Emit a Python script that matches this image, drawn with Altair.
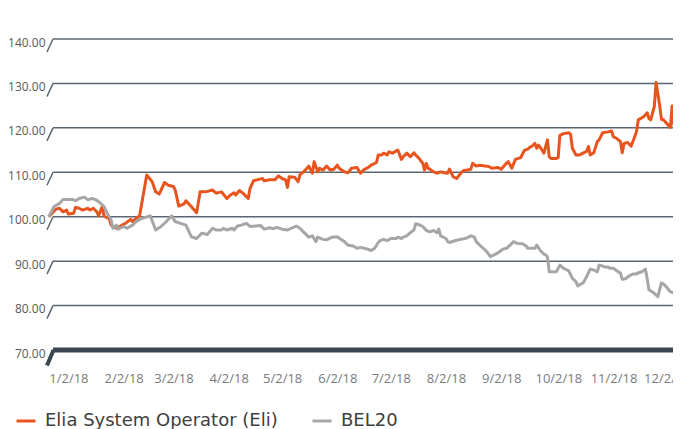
import altair as alt
import pandas as pd

START = "2018-01-02"
SERIES = ["Elia System Operator (Eli)", "BEL20"]
COLORS = ["#E8541E", "#A6A6A6"]

# day offsets from 2 Jan 2018 and index values (rebased to 100)
ELIA_DAYS = [0, 4, 6, 8, 10, 11, 14, 15, 17, 19, 22, 23, 25, 27, 28, 30, 31, 32, 34, 35,
             38, 43, 46, 47, 49, 51, 55, 58, 60, 62, 65, 67, 70, 71, 73, 76, 77, 80, 83, 85,
             88, 92, 94, 97, 100, 102, 104, 105, 107, 109, 112, 113, 115, 118, 120, 121, 124, 127, 129, 131,
             133, 134, 135, 138, 140, 141, 143, 145, 146, 148, 149, 151, 152, 154, 156, 158, 160, 162, 163, 166,
             168, 170, 173, 175, 177, 179, 181, 184, 185, 187, 188, 190, 191, 193, 195, 196, 198, 199, 201, 203,
             205, 206, 208, 210, 211, 212, 213, 214, 216, 218, 220, 222, 224, 225, 227, 229, 231, 232, 233, 235,
             237, 238, 240, 242, 245, 247, 249, 252, 254, 256, 258, 260, 262, 265, 267, 269, 270, 272, 273, 274,
             275, 277, 278, 280, 281, 282, 285, 286, 287, 289, 292, 293, 294, 296, 298, 300, 302, 303, 304, 306,
             308, 309, 311, 314, 316, 317, 319, 321, 322, 323, 325, 327, 329, 330, 331, 334, 336, 337, 338, 340,
             341, 343, 344, 345, 347, 349, 350, 351, 353, 354, 355]
ELIA_VALUES = [100.0, 101.7, 101.9, 101.1, 101.5, 100.6, 100.8, 102.1, 101.9, 101.5, 101.9, 101.5, 101.9, 101.1, 100.2, 102.3, 100.2, 99.9, 99.6, 98.1,
               97.4, 98.5, 99.4, 98.9, 99.6, 100.2, 109.4, 107.9, 105.6, 105.1, 107.7, 107.1, 106.8, 106.0, 102.4, 102.9, 103.6, 102.3, 100.9, 105.6,
               105.6, 106.0, 105.3, 105.6, 104.1, 104.9, 105.4, 104.9, 105.9, 105.3, 104.1, 106.4, 108.1, 108.4, 108.6, 108.1, 108.3, 108.3, 109.2, 108.6,
               108.3, 106.6, 109.0, 108.9, 107.9, 109.4, 110.1, 110.9, 111.4, 109.8, 112.4, 110.1, 110.9, 110.5, 111.4, 110.5, 110.7, 111.6, 110.9, 110.1,
               109.9, 110.9, 111.1, 109.8, 110.6, 111.0, 111.6, 112.2, 113.9, 113.9, 114.3, 113.9, 114.6, 114.3, 114.8, 115.0, 112.9, 113.5, 114.3, 113.5,
               114.4, 113.9, 113.1, 112.0, 110.5, 112.0, 110.9, 110.7, 110.1, 109.8, 110.1, 109.9, 109.8, 110.7, 109.0, 108.6, 109.6, 110.1, 110.4, 110.5,
               110.7, 112.0, 111.4, 111.6, 111.4, 111.3, 110.9, 111.1, 110.7, 111.6, 112.4, 110.9, 112.9, 113.3, 114.9, 115.2, 115.6, 116.1, 116.5, 115.4,
               116.1, 115.0, 114.3, 117.3, 113.5, 113.1, 113.1, 113.3, 118.3, 118.7, 118.9, 118.6, 115.4, 113.9, 113.9, 114.3, 114.7, 115.8, 113.9, 114.4,
               116.9, 117.3, 118.9, 119.1, 119.3, 118.0, 117.6, 116.9, 114.4, 116.5, 116.7, 115.9, 118.0, 119.1, 121.8, 122.5, 123.4, 122.1, 121.8, 124.8,
               130.2, 125.1, 121.9, 121.9, 121.0, 120.1, 124.9, 120.6, 121.1, 120.2, 119.9]

BEL_DAYS = [0, 3, 6, 8, 13, 15, 17, 20, 22, 24, 26, 28, 31, 33, 35, 36, 38, 39, 42, 44,
            47, 49, 52, 57, 60, 63, 66, 69, 71, 74, 77, 80, 83, 86, 89, 92, 94, 97, 98, 100,
            103, 104, 106, 108, 111, 113, 116, 119, 121, 124, 126, 128, 131, 134, 136, 139, 141, 143, 146, 148,
            150, 151, 154, 156, 159, 162, 164, 166, 168, 171, 173, 175, 177, 179, 181, 183, 185, 186, 188, 190,
            192, 195, 196, 198, 199, 201, 203, 205, 206, 208, 210, 212, 214, 216, 218, 219, 220, 223, 224, 225,
            228, 231, 234, 237, 239, 240, 242, 244, 246, 248, 250, 252, 254, 255, 257, 259, 261, 263, 266, 268,
            269, 271, 273, 274, 276, 278, 279, 280, 281, 284, 285, 287, 289, 292, 294, 296, 297, 299, 300, 302,
            304, 306, 308, 309, 311, 313, 314, 315, 317, 319, 321, 322, 324, 326, 328, 330, 331, 333, 335, 336,
            337, 339, 341, 342, 344, 345, 347, 349, 351, 352, 353, 355]
BEL_VALUES = [100.0, 102.3, 103.0, 103.9, 103.9, 103.6, 104.1, 104.4, 103.8, 104.1, 103.9, 103.4, 102.3, 100.6, 99.3, 97.4, 98.1, 97.2, 97.8, 97.4,
              98.1, 98.9, 99.6, 100.2, 97.0, 97.8, 98.9, 100.2, 98.9, 98.5, 98.1, 95.5, 95.1, 96.3, 96.0, 97.4, 97.0, 97.0, 97.4, 97.0,
              97.4, 97.0, 97.9, 98.1, 98.5, 97.8, 97.9, 98.0, 97.2, 97.5, 97.3, 97.6, 97.2, 97.0, 97.4, 97.9, 97.4, 96.6, 95.4, 95.7,
              94.4, 95.4, 94.9, 94.8, 95.4, 95.5, 94.9, 94.4, 93.6, 93.4, 92.9, 93.1, 92.9, 92.7, 92.4, 92.9, 94.2, 94.6, 94.9, 94.6,
              95.1, 95.1, 95.4, 95.1, 95.4, 95.7, 96.4, 97.0, 98.4, 98.2, 97.8, 96.9, 96.6, 96.9, 96.4, 97.2, 95.7, 95.1, 94.4, 94.2,
              94.6, 94.9, 95.1, 95.7, 95.4, 94.4, 93.6, 92.9, 92.1, 91.0, 91.4, 91.8, 92.4, 92.7, 92.9, 93.6, 94.4, 94.0, 93.9, 93.4,
              92.9, 92.9, 92.9, 93.6, 92.4, 91.6, 91.4, 91.0, 87.6, 87.6, 87.6, 89.1, 88.4, 87.8, 86.1, 85.4, 84.4, 84.9, 85.1, 86.5,
              88.2, 88.0, 87.6, 89.1, 88.9, 88.6, 88.7, 88.4, 88.4, 87.8, 87.3, 85.9, 86.1, 86.7, 87.1, 87.1, 87.4, 87.6, 88.2, 86.1,
              83.5, 83.1, 82.4, 82.0, 85.1, 84.9, 84.1, 83.1, 82.9, 81.4, 81.1, 80.5]

Y_TICKS = [70, 80, 90, 100, 110, 120, 130, 140]
X_TICKS = [(m, 2) for m in range(1, 13)]

FONT = "Open Sans"
LEGEND_FONT = "DejaVu Sans"
W, H = 626, 311
Y_DOMAIN = [70, 140]

base = pd.Timestamp(START)
df = pd.concat([
    pd.DataFrame({"date": base + pd.to_timedelta(ELIA_DAYS, unit="D"),
                  "value": ELIA_VALUES, "series": SERIES[0]}),
    pd.DataFrame({"date": base + pd.to_timedelta(BEL_DAYS, unit="D"),
                  "value": BEL_VALUES, "series": SERIES[1]}),
], ignore_index=True)

grid_vals = [v for v in Y_TICKS if v != 70]
grid = pd.DataFrame({"v": grid_vals, "v2": [v - 2.93 for v in grid_vals]})
floor = pd.DataFrame({"v": [70], "v2": [70 - 3.5]})

yscale = alt.Scale(domain=Y_DOMAIN, nice=False, zero=False)
yaxis = alt.Axis(values=Y_TICKS, format=".2f", title=None, domain=False, ticks=False,
                 grid=False, labelPadding=2, labelOffset=3, labelFont=FONT,
                 labelFontSize=12, labelColor="#595959")

grid_h = alt.Chart(grid).mark_rule(color="#5b6670", strokeWidth=1.5).encode(
    x=alt.value(6), x2=alt.value(W + 20),
    y=alt.Y("v:Q", scale=yscale, axis=yaxis),
)
grid_s = alt.Chart(grid).mark_rule(color="#5b6670", strokeWidth=1.5).encode(
    x=alt.value(6), x2=alt.value(0),
    y=alt.Y("v:Q", scale=yscale, axis=yaxis), y2="v2:Q",
)
floor_h = alt.Chart(floor).mark_rule(color="#3c4650", strokeWidth=5).encode(
    x=alt.value(6), x2=alt.value(W + 20),
    y=alt.Y("v:Q", scale=yscale, axis=yaxis),
)
floor_s = alt.Chart(floor).mark_rule(color="#3c4650", strokeWidth=4).encode(
    x=alt.value(6.5), x2=alt.value(0),
    y=alt.Y("v:Q", scale=yscale, axis=yaxis), y2="v2:Q",
)

lines = alt.Chart(df).mark_line(strokeWidth=3, strokeJoin="round").encode(
    x=alt.X("date:T",
            scale=alt.Scale(domain=[alt.DateTime(year=2018, month=1, date=1),
                                    alt.DateTime(year=2018, month=12, date=18, hours=12)]),
            axis=alt.Axis(values=[alt.DateTime(year=2018, month=m, date=d) for m, d in X_TICKS],
                          format="%-m/%-d/%y", title=None, domain=False, ticks=False, grid=False,
                          labelAlign="left", labelBaseline="top", labelPadding=22,
                          labelFont=FONT, labelFontSize=13, labelColor="#7a7a7a", labelFlush=False)),
    y=alt.Y("value:Q", scale=yscale, axis=yaxis),
    color=alt.Color("series:N", scale=alt.Scale(domain=SERIES, range=COLORS),
                    legend=alt.Legend(title=None, orient="none", legendX=-32, legendY=371,
                                      direction="horizontal", symbolType="stroke",
                                      symbolSize=361, symbolStrokeWidth=3,
                                      labelFont=LEGEND_FONT, labelFontSize=18, labelColor="#404040",
                                      labelOffset=8, columnPadding=28, labelLimit=400,
                                      padding=0)),
)

chart = alt.layer(grid_h, grid_s, floor_h, floor_s, lines).properties(
    width=W, height=H,
    padding={"left": 39, "top": 31, "right": 0, "bottom": 80},
    autosize=alt.AutoSizeParams(type="none"),
).configure_view(stroke=None)

chart.save("out.html", embed_options={"renderer": "svg", "actions": False})
